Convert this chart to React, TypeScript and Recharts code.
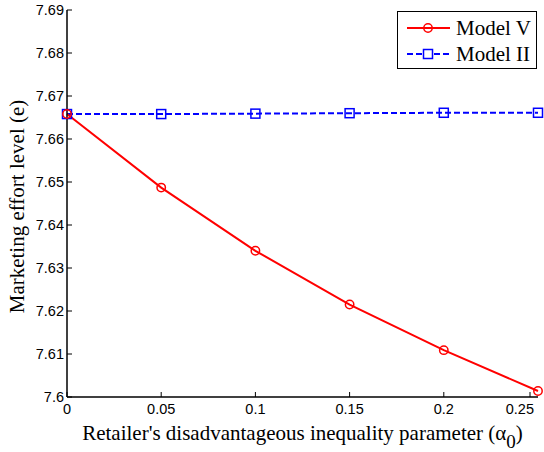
import React from 'react';
import { LineChart, Line, XAxis, YAxis } from 'recharts';

const alphaValues = [0, 0.05, 0.1, 0.15, 0.2, 0.25];
const modelV = [7.6658, 7.6487, 7.634, 7.6215, 7.6109, 7.6014];
const modelII = [7.6658, 7.6658, 7.6659, 7.666, 7.6661, 7.6661];

const xTicks = [0, 0.05, 0.1, 0.15, 0.2, 0.25];
const xTickLabels = ['0', '0.05', '0.1', '0.15', '0.2', '0.25'];
const yTicks = [7.6, 7.61, 7.62, 7.63, 7.64, 7.65, 7.66, 7.67, 7.68, 7.69];
const yTickLabels = ['7.6', '7.61', '7.62', '7.63', '7.64', '7.65', '7.66', '7.67', '7.68', '7.69'];

const data = alphaValues.map((a, i) => ({
  alpha: a,
  modelV: modelV[i],
  modelII: modelII[i],
}));

const TICK_FONT = { fontFamily: 'Liberation Sans, Arial, sans-serif', fontSize: 14.5, fill: '#000' };
const SERIF = 'Liberation Serif, Times New Roman, serif';

const BottomTick = (props: any) => {
  const { x, y, index } = props;
  // last label sits at the figure edge, so keep it inside the frame
  const last = index === xTickLabels.length - 1;
  return (
    <g>
      <line x1={x} y1={y} x2={x} y2={y - 5} stroke="#000" strokeWidth={1} />
      <text x={last ? x + 4 : x} y={y + 17} textAnchor={last ? 'end' : 'middle'} style={TICK_FONT}>
        {xTickLabels[index]}
      </text>
    </g>
  );
};

const TopTick = (props: any) => {
  const { x, y } = props;
  return <line x1={x} y1={y} x2={x} y2={y + 5} stroke="#000" strokeWidth={1} />;
};

const LeftTick = (props: any) => {
  const { x, y, index } = props;
  return (
    <g>
      <line x1={x} y1={y} x2={x + 5} y2={y} stroke="#000" strokeWidth={1} />
      <text x={x - 3} y={y + 5} textAnchor="end" style={TICK_FONT}>
        {yTickLabels[index]}
      </text>
    </g>
  );
};

const RightTick = (props: any) => {
  const { x, y } = props;
  return <line x1={x} y1={y} x2={x - 5} y2={y} stroke="#000" strokeWidth={1} />;
};

const SquareDot = (props: any) => {
  const { cx, cy, index } = props;
  return (
    <rect
      key={`sq-${index}`}
      x={cx - 4.5}
      y={cy - 4.5}
      width={9}
      height={9}
      fill="none"
      stroke="#0000ff"
      strokeWidth={1.5}
    />
  );
};

const LegendBox = () => (
  <div
    style={{
      position: 'absolute',
      left: 397,
      top: 11,
      width: 140,
      height: 58,
      border: '1.3px solid #000',
      background: '#fff',
      fontFamily: SERIF,
      fontSize: 21,
      boxSizing: 'border-box',
    }}
  >
    <div style={{ display: 'flex', alignItems: 'center', height: 26, marginTop: 3 }}>
      <svg width={58} height={20}>
        <line x1={9} y1={10} x2={52} y2={10} stroke="#ff0000" strokeWidth={2} />
        <circle cx={30} cy={10} r={4.2} fill="none" stroke="#ff0000" strokeWidth={1.5} />
      </svg>
      <span>Model V</span>
    </div>
    <div style={{ display: 'flex', alignItems: 'center', height: 26 }}>
      <svg width={58} height={20}>
        <line x1={9} y1={10} x2={52} y2={10} stroke="#0000ff" strokeWidth={2} strokeDasharray="6 3" />
        <rect x={25.5} y={5.5} width={9} height={9} fill="#fff" stroke="#0000ff" strokeWidth={1.5} />
      </svg>
      <span>Model II</span>
    </div>
  </div>
);

export default function App() {
  return (
    <div
      style={{
        position: 'absolute',
        left: 0,
        top: 0,
        width: 544,
        height: 452,
        overflow: 'hidden',
        background: '#fff',
      }}
    >
      <LineChart width={544} height={452} data={data} margin={{ top: 10, right: 6, bottom: 0, left: 0 }}>
        <XAxis
          xAxisId="bottom"
          dataKey="alpha"
          type="number"
          domain={[0, 0.25]}
          ticks={xTicks}
          tick={<BottomTick />}
          tickLine={false}
          tickSize={0}
          tickMargin={0}
          height={55}
          axisLine={{ stroke: '#000', strokeWidth: 1.5 }}
          label={(p: any) => {
            const vb = p.viewBox;
            const cx = vb.x + vb.width / 2;
            return (
              <text x={cx} y={440} textAnchor="middle" style={{ fontFamily: SERIF, fontSize: 21, fill: '#000' }}>
                Retailer's disadvantageous inequality parameter (α
                <tspan dy={8} fontSize={19}>0</tspan>
                <tspan dy={-8}>)</tspan>
              </text>
            );
          }}
        />
        <XAxis
          xAxisId="top"
          orientation="top"
          dataKey="alpha"
          type="number"
          domain={[0, 0.25]}
          ticks={xTicks}
          tick={<TopTick />}
          tickLine={false}
          tickSize={0}
          tickMargin={0}
          height={0}
          axisLine={{ stroke: '#000', strokeWidth: 1.5 }}
        />
        <YAxis
          yAxisId="left"
          type="number"
          domain={[7.6, 7.69]}
          ticks={yTicks}
          tick={<LeftTick />}
          tickLine={false}
          tickSize={0}
          tickMargin={0}
          width={67}
          axisLine={{ stroke: '#000', strokeWidth: 1.5 }}
          label={(p: any) => {
            const vb = p.viewBox;
            const cy = vb.y + vb.height / 2 + 3;
            return (
              <text
                x={17}
                y={cy}
                transform={`rotate(-90 17 ${cy})`}
                textAnchor="middle"
                dominantBaseline="central"
                style={{ fontFamily: SERIF, fontSize: 21, fill: '#000' }}
              >
                Marketing effort level (e)
              </text>
            );
          }}
        />
        <YAxis
          yAxisId="right"
          orientation="right"
          type="number"
          domain={[7.6, 7.69]}
          ticks={yTicks}
          tick={<RightTick />}
          tickLine={false}
          tickSize={0}
          tickMargin={0}
          width={0}
          axisLine={{ stroke: '#000', strokeWidth: 1.5 }}
        />
        <Line
          xAxisId="bottom"
          yAxisId="left"
          dataKey="modelII"
          name="Model II"
          stroke="#0000ff"
          strokeWidth={2}
          strokeDasharray="6 3"
          dot={<SquareDot />}
          isAnimationActive={false}
        />
        <Line
          xAxisId="bottom"
          yAxisId="left"
          dataKey="modelV"
          name="Model V"
          stroke="#ff0000"
          strokeWidth={2}
          dot={{ r: 4.2, fill: 'none', stroke: '#ff0000', strokeWidth: 1.5 }}
          isAnimationActive={false}
        />
      </LineChart>
      <LegendBox />
    </div>
  );
}
